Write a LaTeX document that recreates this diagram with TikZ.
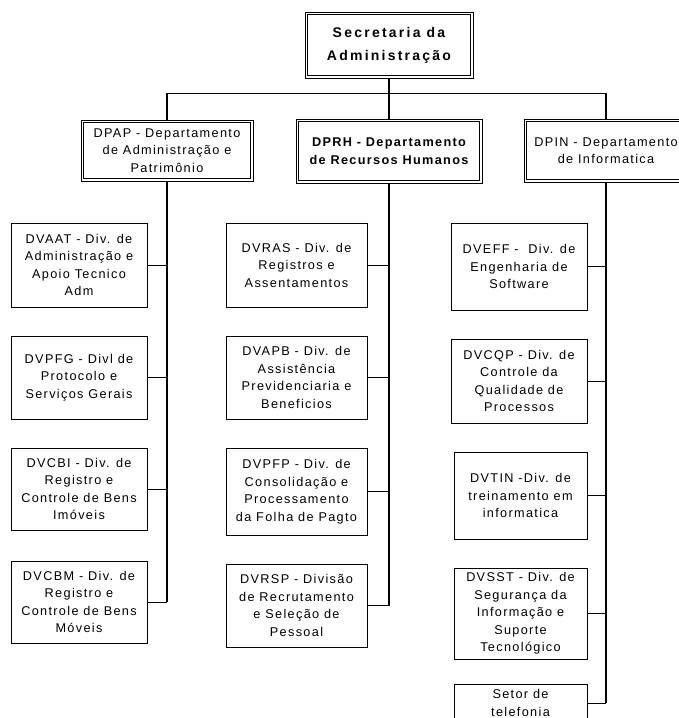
\documentclass[tikz,border=0pt]{standalone}
\usepackage{fontspec}
\setmainfont{Liberation Sans}[LetterSpace=10.5]
\newfontfamily\headfont{Liberation Sans}[LetterSpace=16]
\begin{document}
\begin{tikzpicture}[x=1pt,y=-1pt,
  unit/.style={draw, line width=0.9pt, align=center, inner sep=2pt,
    font=\fontsize{12.7}{17.5}\selectfont},
  boldunit/.style={unit, font=\fontsize{12.7}{17.5}\selectfont\bfseries},
  headunit/.style={unit, font=\headfont\bfseries\fontsize{14}{23}\selectfont},
  inner/.style={line width=1.5pt},
  trunk/.style={line width=1.6pt},
  link/.style={line width=1pt}]
\useasboundingbox (0,0) rectangle (679,718);

% top level
\node[headunit, minimum width=168pt, minimum height=66pt] (sec) at (389,45)
  {Secretaria da\\Administração};

% departments
\node[unit, minimum width=172pt, minimum height=61pt] (dpap) at (167,150.5)
  {DPAP - Departamento\\de Administração e\\Patrimônio};
\node[boldunit, minimum width=186pt, minimum height=64pt] (dprh) at (389,151)
  {DPRH - Departamento\\de Recursos Humanos};
\node[unit, minimum width=164pt, minimum height=63pt] (dpin) at (606,150.5)
  {DPIN - Departamento\\de Informatica};

% inner frame of the double-bordered boxes
\foreach \n in {sec,dpap,dprh,dpin}
  \draw[inner] ([xshift=3pt,yshift=-3pt]\n.north west) rectangle ([xshift=-3pt,yshift=3pt]\n.south east);

% DPAP divisions
\node[unit, minimum width=136pt, minimum height=84pt] (dvaat) at (79,265)
  {DVAAT - Div. de\\Administração e\\Apoio Tecnico\\Adm};
\node[unit, minimum width=136pt, minimum height=83pt] (dvpfg) at (79,377.5)
  {DVPFG - Divl de\\Protocolo e\\Serviços Gerais};
\node[unit, minimum width=136pt, minimum height=82pt] (dvcbi) at (79,489)
  {DVCBI - Div. de\\Registro e\\Controle de Bens\\Imóveis};
\node[unit, minimum width=136pt, minimum height=82pt] (dvcbm) at (79,602)
  {DVCBM - Div. de\\Registro e\\Controle de Bens\\Móveis};

% DPRH divisions
\node[unit, minimum width=141pt, minimum height=84pt] (dvras) at (296.5,265)
  {DVRAS - Div. de\\Registros e\\Assentamentos};
\node[unit, minimum width=141pt, minimum height=83pt] (dvapb) at (296.5,377.5)
  {DVAPB - Div. de\\Assistência\\Previdenciaria e\\Beneficios};
\node[unit, minimum width=141pt, minimum height=87pt] (dvpfp) at (296.5,491.5)
  {DVPFP - Div. de\\Consolidação e\\Processamento\\da Folha de Pagto};
\node[unit, minimum width=141pt, minimum height=83pt] (dvrsp) at (296.5,605.5)
  {DVRSP - Divisão\\de Recrutamento\\e Seleção de\\Pessoal};

% DPIN divisions
\node[unit, minimum width=136pt, minimum height=87pt] (dveff) at (519,266.5)
  {DVEFF -~ Div. de\\Engenharia de\\Software};
\node[unit, minimum width=136pt, minimum height=84pt] (dvcqp) at (519,381)
  {DVCQP - Div. de\\Controle da\\Qualidade de\\Processos};
\node[unit, minimum width=133pt, minimum height=87pt] (dvtin) at (520.5,495.5)
  {DVTIN -Div. de\\treinamento em\\informatica};
\node[unit, minimum width=133pt, minimum height=91pt] (dvsst) at (520.5,613.5)
  {DVSST - Div. de\\Segurança da\\Informação e\\Suporte\\Tecnológico};
\node[unit, minimum width=133pt, minimum height=38pt] (setor) at (520.5,703)
  {Setor de\\telefonia};

% bus from the secretariat to the departments
\coordinate (bus) at (389,93);
\draw[trunk] (sec.south) -- (bus);
\draw[link] (dpap.north |- bus) -- (dpin.north |- bus);
\foreach \d in {dpap,dprh,dpin}
  \draw[trunk] (\d.north |- bus) -- (\d.north);

% department trunks
\draw[trunk] (dpap.south) -- (dpap.south |- dvcbm.east);
\draw[trunk] (dprh.south) -- (dprh.south |- dvrsp.east);
\draw[trunk] (dpin.south) -- (dpin.south |- setor.east);

% division branches
\foreach \c in {dvaat,dvpfg,dvcbi,dvcbm}
  \draw[link] (\c.east) -- (\c.east -| dpap.south);
\foreach \c in {dvras,dvapb,dvpfp,dvrsp}
  \draw[link] (\c.east) -- (\c.east -| dprh.south);
\foreach \c in {dveff,dvcqp,dvtin,dvsst,setor}
  \draw[link] (\c.east) -- (\c.east -| dpin.south);
\end{tikzpicture}
\end{document}
